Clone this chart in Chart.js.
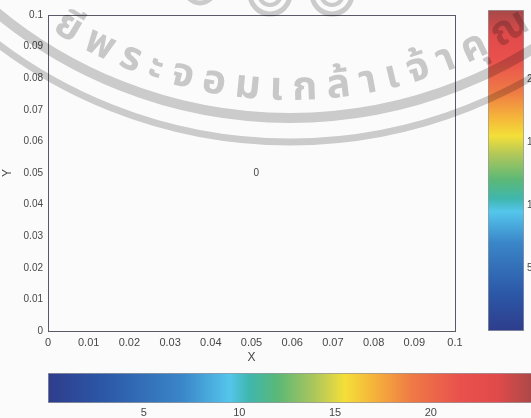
<!DOCTYPE html>
<html>
<head>
<meta charset="utf-8">
<script src="https://cdn.jsdelivr.net/npm/chart.js@4"></script>
<style>
  html, body { margin: 0; padding: 0; width: 531px; height: 418px; overflow: hidden; background: #fbfbfb; }
  .pane { position: absolute; }
  #mainPane { left: 0; top: 0; width: 470px; height: 366px; }
  #hbarPane { left: 0; top: 366px; width: 560px; height: 52px; }
  #vbarPane { left: 480px; top: 0; width: 80px; height: 340px; }
  #seal { position: absolute; left: 0; top: 0; mix-blend-mode: multiply; pointer-events: none; }
</style>
</head>
<body>
<div class="pane" id="mainPane"><canvas id="fieldChart"></canvas></div>
<div class="pane" id="vbarPane"><canvas id="vbarChart"></canvas></div>
<div class="pane" id="hbarPane"><canvas id="hbarChart"></canvas></div>

<svg id="seal" width="531" height="418" viewBox="0 0 531 418">
  <defs>
    <path id="sealArc" d="M -22.5 -29.5 A 442 442 0 0 0 602.5 -29.5" />
  </defs>
  <g fill="none" stroke="#cfcfcf">
    <circle cx="290" cy="-342" r="460" stroke-width="10" />
    <circle cx="290" cy="-342" r="484" stroke-width="7" />
    <circle cx="200" cy="-12" r="15" stroke-width="5" />
    <circle cx="270" cy="-6" r="20" stroke-width="5" />
    <circle cx="270" cy="-6" r="11" stroke-width="4" />
    <circle cx="332" cy="-6" r="20" stroke-width="5" />
    <circle cx="332" cy="-6" r="11" stroke-width="4" />
  </g>
  <text font-family="'Noto Sans Thai', 'Noto Sans', 'DejaVu Sans', sans-serif" font-size="40" font-weight="bold" fill="#cbcbcb">
    <textPath href="#sealArc" startOffset="96" textLength="506" lengthAdjust="spacing">ยีพระจอมเกล้าเจ้าคุณ</textPath>
  </text>
</svg>

<script>
// ---- DATA ----
const xTicks = [0, 0.01, 0.02, 0.03, 0.04, 0.05, 0.06, 0.07, 0.08, 0.09, 0.1];
const yTicks = [0, 0.01, 0.02, 0.03, 0.04, 0.05, 0.06, 0.07, 0.08, 0.09, 0.1];
const labelX = [0.05];
const labelY = [0.05];
const labelText = ['0'];
const cbarTicks = [5, 10, 15, 20];
const cbarMin = 0;
const cbarMax = 25.5;
// colormap: value -> colour
const cmapValues = [0, 3, 7, 9.5, 10.5, 12, 14, 15.5, 17, 19, 21.5, 23.5, 25.5];
const cmapColors = ['#2e3d8c', '#2c58a8', '#3a86c8', '#54c6ec', '#3fb7ae', '#5bb877', '#b0c75a',
                    '#f4df38', '#f5b43a', '#ef7a45', '#e9514d', '#e04a4a', '#a64848'];

const FONT = "'Liberation Sans', Arial, sans-serif";
const INK = '#474747';
Chart.defaults.font.family = FONT;
Chart.defaults.color = INK;
Chart.defaults.animation = false;
Chart.defaults.responsive = true;
Chart.defaults.maintainAspectRatio = false;
Chart.defaults.plugins.legend.display = false;
Chart.defaults.plugins.tooltip.enabled = false;

const fmt = v => String(+v.toFixed(2));

// ---- MAIN FIELD PLOT ----
const boxPlugin = {
  id: 'boxAndLabels',
  afterDraw(chart) {
    const { ctx, chartArea: a, scales } = chart;
    ctx.save();
    ctx.strokeStyle = '#5a5a66';
    ctx.lineWidth = 1;
    ctx.strokeRect(a.left + 0.5, a.top + 0.5, a.right - a.left, a.bottom - a.top);
    ctx.fillStyle = '#444';
    ctx.font = `10px ${FONT}`;
    ctx.textAlign = 'left';
    ctx.textBaseline = 'middle';
    labelText.forEach((t, i) => {
      ctx.fillText(t, scales.x.getPixelForValue(labelX[i]) + 2, scales.y.getPixelForValue(labelY[i]));
    });
    ctx.restore();
  }
};

new Chart(document.getElementById('fieldChart'), {
  type: 'scatter',
  data: {
    datasets: [{
      data: labelX.map((x, i) => ({ x, y: labelY[i] })),
      pointRadius: 0
    }]
  },
  options: {
    layout: { padding: { top: 15, right: 15, left: 0, bottom: 0 } },
    scales: {
      x: {
        type: 'linear', min: 0, max: 0.1,
        afterBuildTicks: s => { s.ticks = xTicks.map(value => ({ value })); },
        afterFit: s => { s.height = 35; },
        grid: { display: false, drawTicks: false },
        border: { display: false },
        ticks: { callback: fmt, padding: 5, maxRotation: 0, autoSkip: false, font: { size: 11 } },
        title: { display: true, text: 'X', font: { size: 12 }, padding: { top: 0, bottom: 1 } }
      },
      y: {
        type: 'linear', min: 0, max: 0.1,
        afterBuildTicks: s => { s.ticks = yTicks.map(value => ({ value })); },
        afterFit: s => { s.width = 48; },
        grid: { display: false, drawTicks: false },
        border: { display: false },
        ticks: { callback: fmt, padding: 5, autoSkip: false, font: { size: 10 } },
        title: { display: true, text: 'Y', font: { size: 12 }, padding: { top: 0, bottom: 0 } }
      }
    }
  },
  plugins: [boxPlugin]
});

// ---- COLORBARS ----
const cbarFill = horizontal => ctx => {
  const chart = ctx.chart;
  if (!chart.chartArea) return null;
  const s = horizontal ? chart.scales.x : chart.scales.y;
  const p0 = s.getPixelForValue(cbarMin), p1 = s.getPixelForValue(cbarMax);
  const g = horizontal
    ? chart.ctx.createLinearGradient(p0, 0, p1, 0)
    : chart.ctx.createLinearGradient(0, p0, 0, p1);
  cmapValues.forEach((v, i) => g.addColorStop((v - cbarMin) / (cbarMax - cbarMin), cmapColors[i]));
  return g;
};

const cbarDataset = horizontal => ({
  data: [[cbarMin, cbarMax]],
  backgroundColor: cbarFill(horizontal),
  borderColor: 'rgba(70,70,80,0.55)',
  borderWidth: 1,
  borderSkipped: false,
  barPercentage: 1,
  categoryPercentage: 1
});

// horizontal bar under the plot
new Chart(document.getElementById('hbarChart'), {
  type: 'bar',
  data: { labels: ['c'], datasets: [cbarDataset(true)] },
  options: {
    indexAxis: 'y',
    layout: { padding: { top: 7, left: 48, right: 24, bottom: 0 } },
    scales: {
      y: { display: false },
      x: {
        type: 'linear', min: cbarMin, max: cbarMax,
        afterBuildTicks: s => { s.ticks = cbarTicks.map(value => ({ value })); },
        afterFit: s => { s.height = 15; },
        grid: { display: false, drawTicks: false },
        border: { display: false },
        ticks: { padding: 3, font: { size: 11 } }
      }
    }
  }
});

// vertical bar at the right
new Chart(document.getElementById('vbarChart'), {
  type: 'bar',
  data: { labels: ['c'], datasets: [cbarDataset(false)] },
  options: {
    layout: { padding: { top: 10, left: 8, right: 0, bottom: 0 } },
    scales: {
      x: { display: false },
      y: {
        type: 'linear', position: 'right', min: cbarMin, max: cbarMax,
        afterBuildTicks: s => { s.ticks = cbarTicks.map(value => ({ value })); },
        afterFit: s => { s.width = 36; },
        grid: { display: false, drawTicks: false },
        border: { display: false },
        ticks: { padding: 3, font: { size: 10 } }
      }
    }
  }
});
</script>
</body>
</html>
